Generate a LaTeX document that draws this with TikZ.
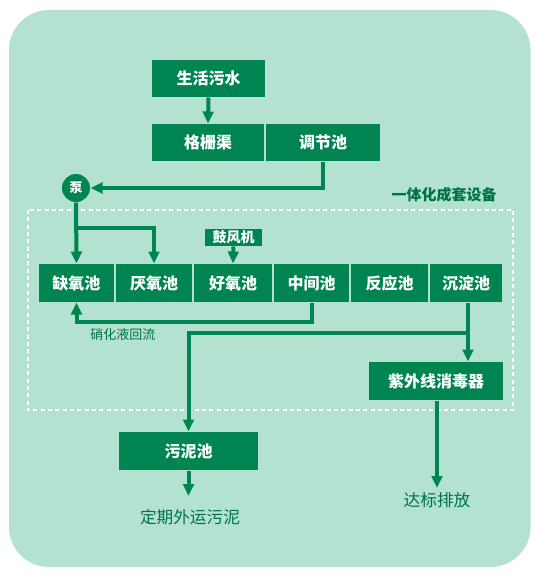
\documentclass[tikz,border=0pt]{standalone}
\usepackage{fontspec}
\setmainfont{Noto Sans CJK SC}
\usetikzlibrary{arrows.meta}

\definecolor{bgmint}{RGB}{179,226,208}
\definecolor{boxgreen}{RGB}{0,133,82}
\definecolor{labelgreen}{RGB}{0,115,70}

\tikzset{every picture/.style={line width=0.75pt}}
\tikzset{
  box/.style={fill=boxgreen, text=white, inner sep=0pt, font=\fontsize{12}{13}\selectfont\bfseries},
  flow/.style={draw=boxgreen, line width=3pt, -{Triangle[length=9pt,width=8pt]}},
  pipe/.style={draw=boxgreen, line width=3pt},
  outtext/.style={text=labelgreen, inner sep=0.75pt}
}

\begin{document}
\begin{tikzpicture}[x=0.75pt,y=0.75pt,yscale=-1,xscale=1]
\useasboundingbox (0,0) rectangle (538,576);

%Shape: Rounded Rectangle [id:background]
\fill [bgmint, rounded corners=30pt] (9,10) rectangle (530.5,567);
%Shape: Dashed Rectangle [id:integrated]
\draw [white, line width=1.2pt, dash pattern={on 3pt off 2.5pt}] (28,210) rectangle (513,410);

% Box Nodes
\node [box, minimum width=84.75pt, minimum height=27.75pt] (shenghuo) at (208.5,78.5) {生活污水};
\node [box, minimum width=84pt, minimum height=27.75pt] (geshan) at (208,142.5) {格栅渠};
\node [box, minimum width=85.5pt, minimum height=27.75pt] (tiaojie) at (323,142.5) {调节池};
\node [circle, fill=boxgreen, text=white, minimum size=21pt, inner sep=0pt, font=\fontsize{9.75}{10}\selectfont\bfseries] (beng) at (76,188) {泵};
\node [box, minimum width=42.75pt, minimum height=12.75pt, font=\fontsize{10.5}{11}\selectfont\bfseries] (gufeng) at (233.5,237.5) {鼓风机};
\node [box, minimum width=56.25pt, minimum height=28.5pt] (queyang) at (76.5,283) {缺氧池};
\node [box, minimum width=57pt, minimum height=28.5pt] (yanyang) at (154,283) {厌氧池};
\node [box, minimum width=58.5pt, minimum height=28.5pt] (haoyang) at (233,283) {好氧池};
\node [box, minimum width=56.25pt, minimum height=28.5pt] (zhongjian) at (311.5,283) {中间池};
\node [box, minimum width=57.75pt, minimum height=28.5pt] (fanying) at (389.5,283) {反应池};
\node [box, minimum width=54pt, minimum height=28.5pt] (chendian) at (466,283) {沉淀池};
\node [box, minimum width=100.5pt, minimum height=28.5pt] (ziwai) at (436,381) {紫外线消毒器};
\node [box, minimum width=104.25pt, minimum height=28.5pt] (wuni) at (188.5,451) {污泥池};

% Text Node
\node [outtext, anchor=east, font=\fontsize{11.25}{12}\selectfont\bfseries] (yiti) at (498,195) {一体化成套设备};
% Text Node
\node [outtext, font=\fontsize{9.75}{10}\selectfont] (xiaohua) at (123,335) {硝化液回流};
% Text Node
\node [outtext, font=\fontsize{12.5}{13}\selectfont] (waiyun) at (190,517) {定期外运污泥};
% Text Node
\node [outtext, font=\fontsize{12.5}{13}\selectfont] (dabiao) at (437,500) {达标排放};

% Coordinates
\coordinate (fen) at (76,228);
\coordinate (huiliu) at (76.5,322);
\coordinate (fenliu) at (468,333);
\coordinate (waiyunend) at (188.5,496);
\coordinate (dabiaoend) at (437,488);

% Connectors
\draw [flow] (shenghuo.south) -- (geshan.north);
\draw [flow] (tiaojie.south) |- (beng.east);
\draw [flow] (beng.south) -- (queyang.north);
\draw [flow] (fen) -| (yanyang.north);
\draw [flow] (gufeng.south) -- (haoyang.north);
\draw [flow] (zhongjian.south) |- (huiliu) -- (queyang.south);
\draw [pipe] (chendian.south -| fenliu) -- (fenliu);
\draw [flow] (fenliu) -- (fenliu |- ziwai.north);
\draw [flow] (fenliu) -| (wuni.north);
\draw [flow] (wuni.south) -- (waiyunend);
\draw [flow] (ziwai.south -| dabiaoend) -- (dabiaoend);

\end{tikzpicture}
\end{document}
